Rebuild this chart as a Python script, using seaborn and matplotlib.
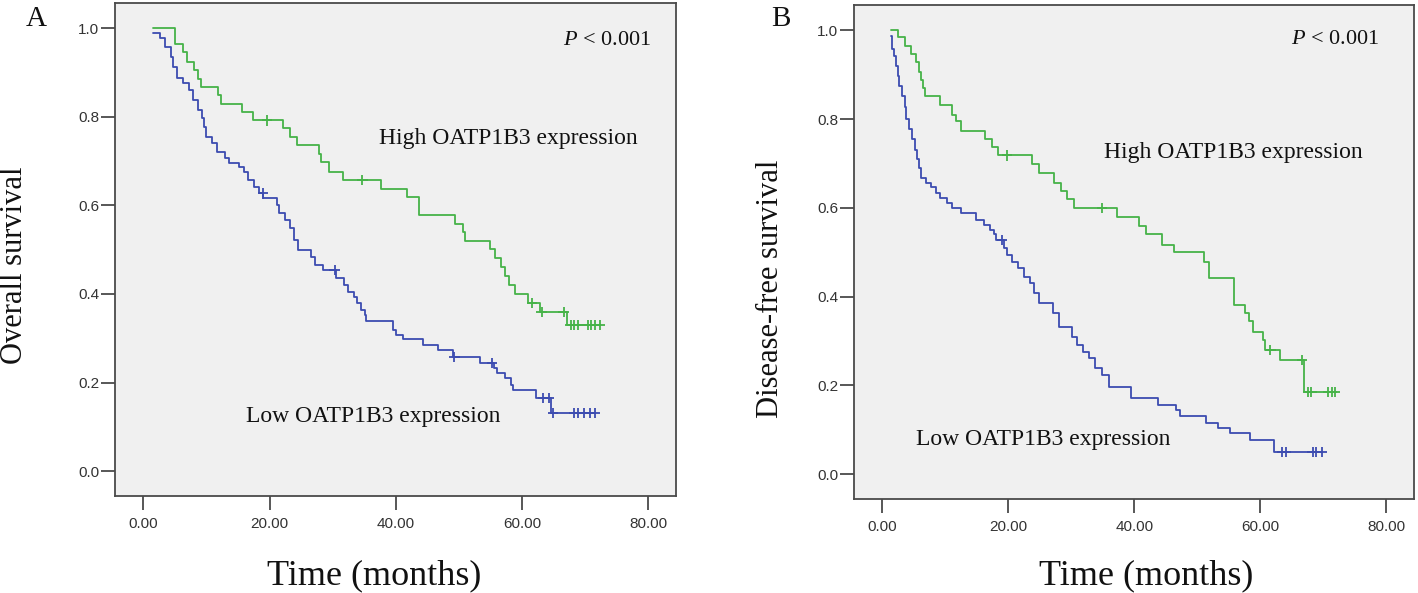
import numpy as np
import pandas as pd
import seaborn as sns
import matplotlib.pyplot as plt
from matplotlib.ticker import FormatStrFormatter

# --------------------------------------------------
# Kaplan-Meier step data
# (time of each drop, survival after the drop, censor times)
# --------------------------------------------------

# Panel A - overall survival, high OATP1B3
os_high_t = [1.6, 5.0, 6.3, 6.9, 8.0, 8.6, 9.2, 11.9, 12.3, 15.7, 17.3, 22.1, 23.2,
             24.4, 27.9, 28.2, 29.4, 31.7, 37.6, 41.8, 43.7, 49.4, 50.6, 50.9, 54.9,
             55.8, 56.6, 57.3, 57.9, 58.9, 61.0, 62.8, 67.1]
os_high_s = [1.000, 0.965, 0.947, 0.924, 0.905, 0.886, 0.868, 0.849, 0.830, 0.811,
             0.792, 0.774, 0.755, 0.736, 0.716, 0.697, 0.676, 0.657, 0.638, 0.619,
             0.578, 0.559, 0.539, 0.520, 0.501, 0.482, 0.461, 0.440, 0.420, 0.401,
             0.380, 0.359, 0.330]
os_high_cens = [19.6, 34.7, 61.6, 63.1, 66.6, 67.7, 68.3, 68.9, 70.4, 71.0, 71.6, 72.3]

# Panel A - overall survival, low OATP1B3
os_low_t = [1.6, 2.6, 3.5, 4.4, 4.7, 5.3, 6.3, 7.2, 7.8, 8.7, 9.3, 9.6, 9.9, 10.8,
            11.7, 12.9, 13.6, 15.1, 16.0, 16.6, 17.5, 18.4, 19.0, 21.2, 21.5, 22.4,
            23.3, 23.9, 24.5, 26.6, 27.2, 28.5, 30.6, 31.8, 32.4, 33.3, 33.9, 34.5,
            35.1, 35.3, 39.6, 40.0, 41.2, 44.3, 46.7, 49.1, 53.4, 55.5, 56.1, 57.3,
            58.3, 58.6, 62.2, 64.6]
os_low_s = [0.989, 0.977, 0.957, 0.935, 0.912, 0.887, 0.876, 0.860, 0.837, 0.815,
            0.797, 0.776, 0.754, 0.740, 0.720, 0.706, 0.695, 0.686, 0.676, 0.657,
            0.641, 0.627, 0.616, 0.600, 0.582, 0.567, 0.548, 0.521, 0.499, 0.483,
            0.465, 0.454, 0.436, 0.420, 0.404, 0.393, 0.379, 0.363, 0.352, 0.339,
            0.318, 0.307, 0.298, 0.284, 0.273, 0.257, 0.244, 0.232, 0.221, 0.210,
            0.194, 0.183, 0.165, 0.131]
os_low_cens = [18.9, 30.3, 49.3, 55.2, 63.4, 64.3, 64.9, 68.3, 68.9, 69.8, 70.7, 71.6]

# Panel B - disease-free survival, high OATP1B3
dfs_high_t = [1.4, 2.4, 3.6, 4.5, 5.4, 5.8, 6.1, 6.4, 6.7, 9.2, 11.1, 11.7, 12.5,
              16.3, 17.4, 18.3, 23.8, 24.9, 27.3, 28.4, 29.3, 30.4, 37.3, 40.8,
              41.9, 44.4, 46.3, 51.1, 51.9, 55.8, 57.5, 58.2, 58.8, 60.4, 60.7,
              63.2, 66.9]
dfs_high_s = [1.000, 0.984, 0.964, 0.946, 0.928, 0.907, 0.889, 0.871, 0.851, 0.831,
              0.810, 0.795, 0.772, 0.754, 0.736, 0.718, 0.698, 0.679, 0.657, 0.637,
              0.619, 0.600, 0.580, 0.558, 0.540, 0.517, 0.501, 0.479, 0.442, 0.381,
              0.363, 0.344, 0.321, 0.302, 0.280, 0.257, 0.185]
dfs_high_cens = [19.8, 34.9, 61.6, 66.6, 67.6, 68.1, 70.7, 71.3, 71.8]

# Panel B - disease-free survival, low OATP1B3
dfs_low_t = [1.4, 1.6, 1.8, 2.2, 2.5, 2.6, 3.1, 3.6, 3.7, 4.2, 4.7, 5.2, 5.5, 5.8,
             6.2, 7.0, 7.7, 8.5, 9.2, 10.2, 11.1, 12.4, 14.9, 16.1, 17.1, 17.7,
             18.0, 19.3, 19.8, 20.5, 21.6, 22.5, 23.4, 24.0, 24.9, 27.1, 28.1, 30.1,
             30.9, 31.8, 32.8, 33.7, 34.9, 35.9, 39.5, 43.7, 46.6, 47.2, 51.3, 53.3,
             55.2, 58.3, 62.1]
dfs_low_s = [0.987, 0.957, 0.941, 0.919, 0.897, 0.874, 0.851, 0.828, 0.799, 0.777,
             0.754, 0.731, 0.709, 0.690, 0.668, 0.657, 0.646, 0.634, 0.623, 0.612,
             0.600, 0.589, 0.573, 0.562, 0.551, 0.540, 0.528, 0.510, 0.494, 0.479,
             0.465, 0.445, 0.431, 0.409, 0.386, 0.363, 0.332, 0.309, 0.291, 0.275,
             0.262, 0.239, 0.223, 0.196, 0.172, 0.156, 0.144, 0.131, 0.115, 0.104,
             0.092, 0.077, 0.050]
dfs_low_cens = [19.0, 63.5, 64.1, 68.3, 68.9, 69.8]

groups = ["High", "Low"]
x_ticks = [0, 20, 40, 60, 80]
y_ticks = [0.0, 0.2, 0.4, 0.6, 0.8, 1.0]

GREEN = "#46b348"
BLUE = "#3c4cb0"
BG = "#f0f0f0"
FRAME = "#4a4a4a"
SERIF = ["Liberation Serif", "DejaVu Serif"]


def step_frame(t, s, cens, group):
    # extend the last step out to the last censored case
    times = list(t) + [max(cens)]
    surv = list(s) + [s[-1]]
    return pd.DataFrame({"time": times, "survival": surv, "group": group})


def censor_frame(t, s, cens, group):
    idx = np.searchsorted(t, cens, side="right") - 1
    return pd.DataFrame({"time": cens, "survival": np.array(s)[idx], "group": group})


# --------------------------------------------------
# Style
# --------------------------------------------------
sns.set_theme(style="ticks")
plt.rcParams["font.family"] = ["Liberation Sans", "DejaVu Sans"]
plt.rcParams["mathtext.fontset"] = "custom"
plt.rcParams["mathtext.it"] = "Liberation Serif:italic"
plt.rcParams["mathtext.rm"] = "Liberation Serif"

fig = plt.figure(figsize=(14.18, 5.93), dpi=100)
ax_a = fig.add_axes([0.0811, 0.1636, 0.3956, 0.8314])
ax_b = fig.add_axes([0.6023, 0.1585, 0.3949, 0.8331])

panels = [
    {
        "ax": ax_a, "letter": "A", "ylabel": "Overall survival",
        "data": [(os_high_t, os_high_s, os_high_cens), (os_low_t, os_low_s, os_low_cens)],
        "p_pos": (80.5, 0.962), "high_pos": (37.3, 0.738), "low_pos": (16.3, 0.111),
        "letter_xy": (36, 19), "xlab_xy": (374, 576), "ylab_xy": (15, 265),
    },
    {
        "ax": ax_b, "letter": "B", "ylabel": "Disease-free survival",
        "data": [(dfs_high_t, dfs_high_s, dfs_high_cens), (dfs_low_t, dfs_low_s, dfs_low_cens)],
        "p_pos": (78.9, 0.968), "high_pos": (35.2, 0.713), "low_pos": (5.4, 0.065),
        "letter_xy": (781, 19), "xlab_xy": (1146, 576), "ylab_xy": (770, 289),
    },
]

W, H = 1418, 593
palette = {"High": GREEN, "Low": BLUE}

for p in panels:
    ax = p["ax"]
    steps = pd.concat([step_frame(t, s, c, g) for (t, s, c), g in zip(p["data"], groups)])
    cens = pd.concat([censor_frame(t, s, c, g) for (t, s, c), g in zip(p["data"], groups)])

    sns.lineplot(data=steps, x="time", y="survival", hue="group", palette=palette,
                 estimator=None, drawstyle="steps-post", linewidth=1.3,
                 legend=False, ax=ax)
    sns.scatterplot(data=cens, x="time", y="survival", hue="group", palette=palette,
                    marker="+", s=55, linewidth=1.3, legend=False, ax=ax, zorder=3)

    ax.set_facecolor(BG)
    ax.set_xlim(-4.5, 84.4)
    ax.set_ylim(-0.056, 1.057)
    ax.set_xticks(x_ticks)
    ax.set_yticks(y_ticks)
    ax.xaxis.set_major_formatter(FormatStrFormatter("%.2f"))
    ax.yaxis.set_major_formatter(FormatStrFormatter("%.1f"))
    ax.tick_params(axis="both", direction="out", length=10, width=1.3,
                   color=FRAME, labelsize=11, labelcolor="#333333")
    ax.tick_params(axis="y", pad=1.5)
    ax.tick_params(axis="x", pad=5)
    for sp in ax.spines.values():
        sp.set_visible(True)
        sp.set_color(FRAME)
        sp.set_linewidth(1.3)

    ax.set_xlabel("Time (months)", fontsize=26, family=SERIF, color="#111111")
    ax.set_ylabel(p["ylabel"], fontsize=22, family=SERIF, color="#111111")
    xl, yl = p["xlab_xy"], p["ylab_xy"]
    ax.xaxis.set_label_coords(xl[0] / W, 1 - xl[1] / H, transform=fig.transFigure)
    ax.yaxis.set_label_coords(yl[0] / W, 1 - yl[1] / H, transform=fig.transFigure)
    ax.xaxis.label.set_va("center")
    ax.yaxis.label.set_va("center")

    ax.text(*p["p_pos"], r"$P$ < 0.001", ha="right", va="baseline",
            fontsize=16, family=SERIF, color="#111111")
    ax.text(*p["high_pos"], "High OATP1B3 expression", ha="left", va="baseline",
            fontsize=17, family=SERIF, color="#111111")
    ax.text(*p["low_pos"], "Low OATP1B3 expression", ha="left", va="baseline",
            fontsize=17, family=SERIF, color="#111111")

    lx, ly = p["letter_xy"]
    fig.text(lx / W, 1 - ly / H, p["letter"], ha="center", va="center",
             fontsize=21, family=SERIF, color="#111111")

fig.savefig("out.png", dpi=100, facecolor="white")
